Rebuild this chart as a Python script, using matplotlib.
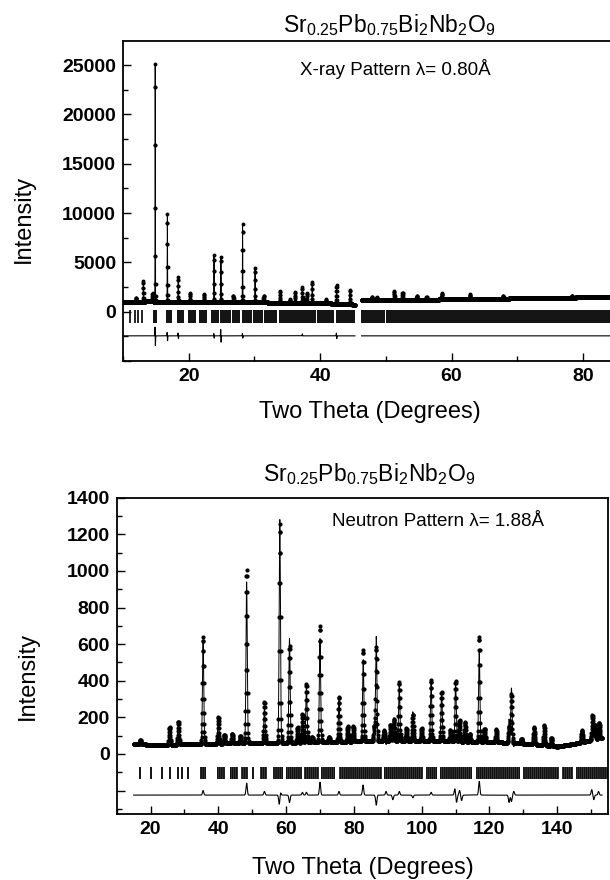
import numpy as np
import matplotlib
matplotlib.use("Agg")
import matplotlib.pyplot as plt
from matplotlib.ticker import MultipleLocator, FuncFormatter

plt.rcParams['font.family'] = ['Liberation Sans', 'DejaVu Sans']
plt.rcParams['mathtext.default'] = 'regular'
plt.rcParams['hatch.linewidth'] = 1.2

# ---------------- data ----------------
TITLE = 'Sr$_{0.25}$Pb$_{0.75}$Bi$_2$Nb$_2$O$_9$'
XR_NOTE = 'X-ray Pattern \u03bb= 0.80\u00c5'
NE_NOTE = 'Neutron Pattern \u03bb= 1.88\u00c5'
XLABEL = 'Two Theta (Degrees)'
YLABEL = 'Intensity'

# X-ray pattern
xr_start, xr_end = 10.0, 90.0
xr_gap = (45.3, 46.3)
xr_bg_pos = [10, 14, 16, 20, 30, 38, 44, 45.3, 46.3, 50, 60, 70, 80, 90]
xr_bg_int = [950, 1050, 1000, 950, 950, 880, 800, 700, 1150, 1180, 1250, 1350, 1450, 1500]
xr_peak_pos = [12.0, 13.1, 14.5, 14.9, 16.75, 18.4, 20.2, 22.3, 23.85, 24.9, 26.8, 28.2,
               30.1, 31.4, 33.9, 35.4, 36.2, 37.3, 37.95, 38.8, 40.9, 42.5, 44.55,
               47.85, 48.6, 51.3, 52.55, 54.7, 56.2, 58.5, 62.8, 67.9, 78.3]
xr_peak_top = [1380, 3130, 1880, 25100, 9900, 3500, 1920, 1750, 5740, 5570, 1610, 8900,
               4390, 1610, 2090, 1250, 2020, 2460, 1920, 3030, 1250, 2700, 2190,
               1500, 1450, 2090, 1920, 1610, 1500, 1850, 1750, 1600, 1600]
xr_diff_pos = [14.87, 14.93, 16.72, 16.78, 18.38, 18.43, 23.83, 23.88, 24.87, 24.93,
               28.18, 28.23, 37.3, 42.48, 42.53]
xr_diff_amp = [900, -1000, 350, -500, 300, -300, 250, -250, 650, -650,
               250, -250, 200, 300, -300]
xr_diff_base = -2450
xr_refl_single = [11.0, 11.85, 12.35, 12.95]
xr_band_start = [14.5, 16.55, 18.2, 19.95, 21.6, 23.35, 24.75, 26.6, 28.05, 29.8, 31.45,
                 33.8, 39.6, 42.4, 46.3, 50.1]
xr_band_end = [15.2, 17.4, 19.3, 21.1, 22.8, 24.55, 26.4, 27.8, 29.6, 31.25, 33.4,
               39.4, 42.1, 45.3, 49.9, 90.0]
xr_refl_range = (-1100, 150)

# Neutron pattern
ne_start, ne_end = 15.0, 153.3
ne_bg_pos = [15, 20, 25, 30, 35, 45, 55, 65, 75, 85, 95, 105, 115, 125, 135, 140, 145, 150, 153.3]
ne_bg_int = [55, 50, 50, 52, 55, 58, 60, 62, 65, 70, 72, 70, 65, 62, 50, 40, 55, 75, 85]
ne_peak_pos = [17.0, 25.6, 28.2, 35.5, 40.0, 41.8, 44.1, 46.5, 48.35, 53.6, 58.15, 61.0,
               63.4, 64.8, 66.0, 67.7, 70.0, 72.7, 75.6, 78.2, 79.8, 82.75, 86.0, 86.6,
               88.9, 90.8, 91.8, 93.4, 95.5, 97.4, 100.0, 102.8, 105.9, 108.5, 110.0,
               111.2, 112.8, 114.2, 117.0, 118.6, 122.0, 125.8, 126.5, 129.5, 133.2,
               136.2, 138.3, 147.3, 150.4, 151.2, 152.4]
ne_peak_top = [76, 147, 177, 638, 200, 105, 110, 98, 1005, 285, 1255, 590,
               147, 219, 382, 92, 700, 92, 312, 152, 152, 568, 150, 586,
               128, 160, 190, 391, 140, 215, 141, 405, 340, 130, 396,
               183, 174, 110, 640, 138, 135, 150, 325, 83, 147,
               156, 87, 128, 214, 160, 170]
ne_diff_pos = [35.5, 48.35, 53.6, 58.0, 58.3, 61.0, 64.8, 66.0, 70.0, 75.6, 82.7, 86.6,
               89.5, 91.5, 93.4, 97.4, 102.8, 109.8, 110.3, 111.2, 111.8, 117.0,
               125.8, 126.5, 127.2, 150.2, 150.8, 152.2]
ne_diff_amp = [25, 65, 20, -55, 20, -40, 15, 15, 70, 20, 55, -55,
               20, -25, 20, -15, 15, 35, -40, 25, -30, 75,
               -40, -35, 20, 30, -25, 20]
ne_diff_base = -225
ne_refl_single = [17.0, 20.0, 23.5, 25.8, 28.2, 29.4, 31.0, 50.2]
ne_band_start = [34.6, 39.5, 43.3, 46.6, 52.2, 56.1, 60.1, 65.4, 70.3, 75.5, 88.8,
                 101.3, 105.3, 116.0, 130.0, 141.5, 145.5]
ne_band_end = [36.4, 41.9, 45.8, 48.8, 54.3, 59.2, 64.6, 69.8, 74.5, 88.3, 100.5,
               104.5, 115.0, 129.0, 140.5, 144.8, 155.0]
ne_refl_range = (-135, -70)


def pattern(x, pos, top, bg_pos, bg_int, sigma, dpos, damp):
    """observed profile through the read peak tops; calc = observed - misfit"""
    bg = np.interp(x, bg_pos, bg_int)
    obs = bg.copy()
    for p, t in zip(pos, top):
        obs += (t - np.interp(p, bg_pos, bg_int)) * np.exp(-0.5 * ((x - p) / sigma) ** 2)
    diff = np.zeros_like(x)
    for p, a in zip(dpos, damp):
        diff += a * np.exp(-0.5 * ((x - p) / sigma) ** 2)
    return obs, obs - diff, diff


fig = plt.figure(figsize=(6.1, 8.8), dpi=100)
W, H = 610.0, 880.0


def axes_px(left, top, right, bottom):
    return fig.add_axes([left / W, 1 - bottom / H, (right - left) / W, (bottom - top) / H])


def style(ax, xmaj, xmin, ymaj, ymin):
    ax.xaxis.set_major_locator(MultipleLocator(xmaj))
    ax.xaxis.set_minor_locator(MultipleLocator(xmin))
    ax.yaxis.set_major_locator(MultipleLocator(ymaj))
    ax.yaxis.set_minor_locator(MultipleLocator(ymin))
    ax.yaxis.set_major_formatter(FuncFormatter(lambda v, p: '' if v < 0 else '%d' % v))
    ax.xaxis.set_major_formatter(FuncFormatter(lambda v, p: '%d' % v))
    ax.tick_params(which='both', direction='in', width=1.0, top=False, right=False)
    ax.tick_params(which='major', length=6, labelsize=14, pad=5)
    ax.tick_params(which='minor', length=3.5)
    for lab in ax.get_xticklabels() + ax.get_yticklabels():
        lab.set_fontweight('bold')
    for s in ax.spines.values():
        s.set_linewidth(1.3)


def draw(ax, x, obs, calc, diff, base, singles, bstart, bend, rr, ms, lw_bar, hatch):
    ax.plot(x, obs, 'o', ms=ms, color='black', mec='none')
    ax.plot(x, calc, '-', lw=0.7, color='black')
    ax.plot(x, base + diff, '-', lw=0.8, color='black')
    ax.vlines(singles, rr[0], rr[1], color='black', lw=lw_bar)
    bars = [(s, e - s) for s, e in zip(bstart, bend)]
    if hatch:
        ax.broken_barh(bars, (rr[0], rr[1] - rr[0]), facecolor='#6a6a6a',
                       edgecolor='#101010', hatch=hatch, linewidth=0)
    else:
        ax.broken_barh(bars, (rr[0], rr[1] - rr[0]), facecolor='#151515', edgecolor='none')


# ---------- top: X-ray ----------
ax1 = axes_px(123, 41, 648.6, 361)
xx = np.arange(xr_start, xr_end, 0.01)
obs, calc, diff = pattern(xx, xr_peak_pos, xr_peak_top, xr_bg_pos, xr_bg_int, 0.022,
                          xr_diff_pos, xr_diff_amp)
gap = (xx > xr_gap[0]) & (xx < xr_gap[1])
obs[gap] = np.nan
calc[gap] = np.nan
diff[gap] = np.nan
draw(ax1, xx, obs, calc, diff, xr_diff_base, xr_refl_single, xr_band_start, xr_band_end,
     xr_refl_range, 2.8, 1.2, None)
ax1.set_xlim(10, 90)
ax1.set_ylim(-5000, 27450)
style(ax1, 20, 10, 5000, 2500)

# ---------- bottom: neutron ----------
ax2 = axes_px(116.7, 497.7, 608, 814.3)
xn = np.arange(ne_start, ne_end, 0.05)
obs2, calc2, diff2 = pattern(xn, ne_peak_pos, ne_peak_top, ne_bg_pos, ne_bg_int, 0.19,
                             ne_diff_pos, ne_diff_amp)
draw(ax2, xn, obs2, calc2, diff2, ne_diff_base, ne_refl_single, ne_band_start, ne_band_end,
     ne_refl_range, 3.0, 1.3, '||||||||')
ax2.set_xlim(10, 155)
ax2.set_ylim(-330, 1400)
style(ax2, 20, 10, 200, 100)

# ---------- texts ----------
fig.text(389 / W, 1 - 32 / H, TITLE, ha='center', va='baseline', fontsize=16.5)
fig.text(369 / W, 1 - 481 / H, TITLE, ha='center', va='baseline', fontsize=16.5)
fig.text(395 / W, 1 - 69 / H, XR_NOTE, ha='center', va='center', fontsize=13.5)
fig.text(438 / W, 1 - 522 / H, NE_NOTE, ha='center', va='center', fontsize=13.5)
fig.text(370 / W, 1 - 412 / H, XLABEL, ha='center', va='center', fontsize=17)
fig.text(363 / W, 1 - 868 / H, XLABEL, ha='center', va='center', fontsize=17)
fig.text(24 / W, 1 - 219 / H, YLABEL, ha='center', va='center', rotation=90, fontsize=17)
fig.text(28 / W, 1 - 676 / H, YLABEL, ha='center', va='center', rotation=90, fontsize=17)

fig.savefig('out.png', dpi=100)
